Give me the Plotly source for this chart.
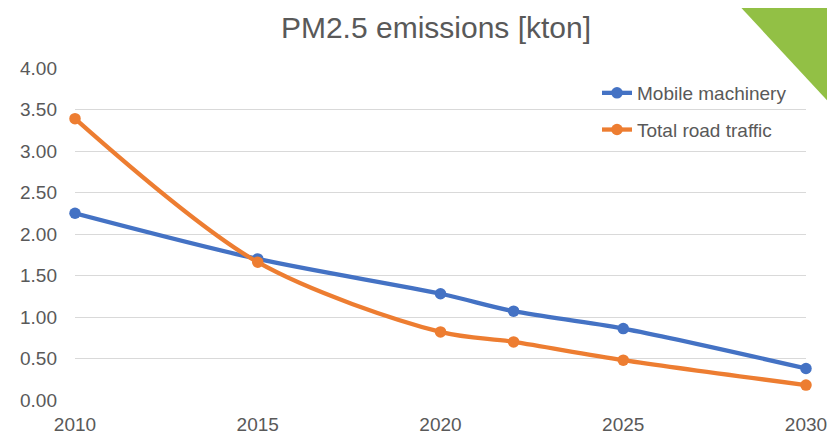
import plotly.graph_objects as go

years = [2010, 2015, 2020, 2022, 2025, 2030]
mobile_machinery = [2.25, 1.70, 1.28, 1.07, 0.86, 0.38]
total_road_traffic = [3.39, 1.66, 0.82, 0.70, 0.48, 0.18]
y_ticks = [0, 0.5, 1.0, 1.5, 2.0, 2.5, 3.0, 3.5, 4.0]
x_ticks = [2010, 2015, 2020, 2025, 2030]

GRAY = "#595959"
FONT = "Liberation Sans, Arial, sans-serif"

# The page body has an 8px margin; size the figure to fit the 835x435 window.
OFF = 8
FW, FH = 835 - OFF, 435 - OFF
# target plot area in page pixels: x 75..806, y 68..400
L, T = 75 - OFF, 68 - OFF
R = FW - (806 - OFF)
B = FH - (400 - OFF)
W, H = FW - L - R, FH - T - B


def px_x(page_x):
    return (page_x - OFF - L) / W


def px_y(page_y):
    return (FH - B - (page_y - OFF)) / H


fig = go.Figure()
fig.add_trace(go.Scatter(
    x=years, y=mobile_machinery, name="Mobile machinery", mode="lines+markers",
    line=dict(color="#4472C4", width=4.3, shape="spline", smoothing=0.9),
    marker=dict(size=11.5, color="#4472C4"), cliponaxis=False, legendgroup="a"))
fig.add_trace(go.Scatter(
    x=years, y=total_road_traffic, name="Total road traffic", mode="lines+markers",
    line=dict(color="#ED7D31", width=4.3, shape="spline", smoothing=0.9),
    marker=dict(size=11.5, color="#ED7D31"), cliponaxis=False, legendgroup="b"))

fig.update_layout(
    width=FW, height=FH,
    margin=dict(l=L, r=R, t=T, b=B, autoexpand=False),
    paper_bgcolor="white", plot_bgcolor="white",
    font=dict(family=FONT, size=19, color=GRAY),
    title=dict(text="PM2.5 emissions [kton]", x=(436 - OFF) / FW, xanchor="center",
               y=1 - (27 - OFF) / FH, yanchor="middle",
               font=dict(size=30, color=GRAY, family=FONT)),
    showlegend=True,
    legend=dict(x=px_x(597), y=px_y(74), xanchor="left", yanchor="top",
                bgcolor="rgba(0,0,0,0)", traceorder="grouped", tracegroupgap=9,
                font=dict(size=19, color=GRAY, family=FONT)),
    xaxis=dict(range=[2010, 2030], tickvals=x_ticks, showgrid=False, zeroline=False,
               showline=False, ticks="", automargin=False, ticklabelstandoff=11,
               tickfont=dict(size=19, color=GRAY, family=FONT)),
    yaxis=dict(range=[0, 4], tickvals=y_ticks, tickformat=".2f", showgrid=True,
               gridcolor="#D9D9D9", gridwidth=1, zeroline=False, showline=False,
               ticks="", automargin=False, ticklabelstandoff=17,
               tickfont=dict(size=19, color=GRAY, family=FONT)),
)
fig.add_shape(type="path", xref="x domain", yref="y domain", layer="above",
              path="M {x0} {y0} L {x1} {y0} L {x1} {y1} Z".format(
                  x0=px_x(734), x1=px_x(836), y0=px_y(0), y1=px_y(110)),
              fillcolor="#92C045", line=dict(width=0))
fig.write_html("out.html")
